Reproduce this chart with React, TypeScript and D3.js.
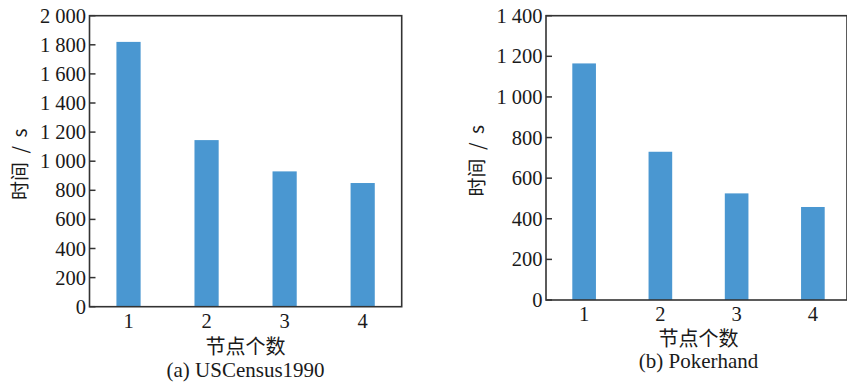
import * as d3 from "d3";

// node counts on the x axis
const nodes = ["1", "2", "3", "4"];

// run time (s) per node count
const usCensusTimes = [1820, 1145, 930, 850];
const pokerhandTimes = [1165, 730, 525, 458];

// y axis ticks
const usCensusTicks = [0, 200, 400, 600, 800, 1000, 1200, 1400, 1600, 1800, 2000];
const pokerhandTicks = [0, 200, 400, 600, 800, 1000, 1200, 1400];

const fmt = d3.formatLocale({ decimal: ".", thousands: " ", grouping: [3], currency: ["", ""] }).format(",");

const serif = "'Liberation Serif', 'Times New Roman', serif";
const cjk = "'Noto Sans CJK SC', 'Liberation Serif', serif";
const barColor = "#4a97d1";
const axisColor = "#333";
const textColor = "#1a1a1a";

type PanelProps = {
  left: number;
  right: number;
  top: number;
  bottom: number;
  values: number[];
  ticks: number[];
  caption: string;
  titleDy: number;
  captionDy: number;
};

function Panel({ left, right, top, bottom, values, ticks, caption, titleDy, captionDy }: PanelProps) {
  const x = d3.scaleBand<string>().domain(nodes).range([left, right]).paddingInner(0).paddingOuter(0);
  const y = d3.scaleLinear().domain([0, ticks[ticks.length - 1]]).range([bottom, top]);
  const barW = x.bandwidth() * 0.31;
  const cx = (left + right) / 2;
  const plotW = Math.min(right, 847);

  return (
    <g>
      {ticks.map((t) => (
        <g key={t}>
          <line x1={left} x2={left + 6} y1={y(t)} y2={y(t)} stroke={axisColor} strokeWidth={1.5} />
          <text
            x={left - 3.5}
            y={y(t)}
            textAnchor="end"
            dominantBaseline="central"
            fontFamily={serif}
            fontSize={20.5}
            fill={textColor}
          >
            {fmt(t)}
          </text>
        </g>
      ))}
      {values.map((v, i) => (
        <rect
          key={nodes[i]}
          x={(x(nodes[i]) as number) + x.bandwidth() / 2 - barW / 2}
          y={y(v)}
          width={barW}
          height={y(0) - y(v)}
          fill={barColor}
        />
      ))}
      <rect
        x={left}
        y={top}
        width={plotW - left}
        height={bottom - top}
        fill="none"
        stroke={axisColor}
        strokeWidth={1.6}
      />
      {nodes.map((n) => (
        <text
          key={n}
          x={(x(n) as number) + x.bandwidth() / 2}
          y={bottom + 21}
          textAnchor="middle"
          fontFamily={serif}
          fontSize={20.5}
          fill={textColor}
        >
          {n}
        </text>
      ))}
      <text x={cx} y={bottom + titleDy} textAnchor="middle" fontFamily={cjk} fontSize={20} fill={textColor}>
        节点个数
      </text>
      <text x={cx} y={bottom + captionDy} textAnchor="middle" fontFamily={serif} fontSize={21} fill={textColor}>
        {caption}
      </text>
      <text
        transform={`translate(${left - 71},${(top + bottom) / 2 + 3}) rotate(-90)`}
        textAnchor="middle"
        dominantBaseline="central"
        fontFamily={cjk}
        fontSize={19}
        fill={textColor}
        style={{ whiteSpace: "pre" }}
      >
        {"时间  /  s"}
      </text>
    </g>
  );
}

export default function App() {
  return (
    <svg
      width={847}
      height={385}
      style={{ position: "absolute", left: 0, top: 0, background: "#fff" }}
    >
      <Panel
        left={89.5}
        right={401.7}
        top={15.7}
        bottom={306.7}
        values={usCensusTimes}
        ticks={usCensusTicks}
        caption="(a) USCensus1990"
        titleDy={47}
        captionDy={70}
      />
      <Panel
        left={546}
        right={851}
        top={15.7}
        bottom={300}
        values={pokerhandTimes}
        ticks={pokerhandTicks}
        caption="(b) Pokerhand"
        titleDy={45.5}
        captionDy={68}
      />
    </svg>
  );
}
